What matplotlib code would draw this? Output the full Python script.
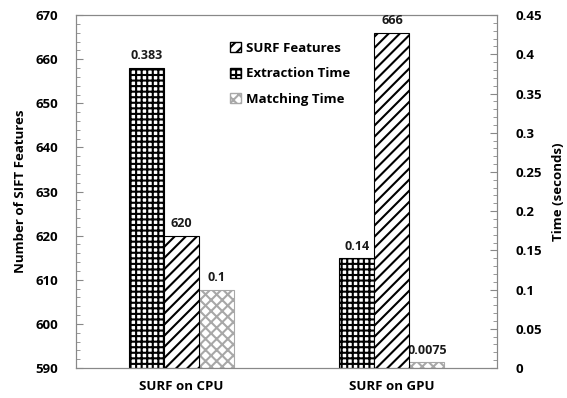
import numpy as np
import matplotlib
matplotlib.use('Agg')
import matplotlib.pyplot as plt
from matplotlib.patches import Patch
from matplotlib.ticker import MultipleLocator

plt.rcParams['font.family'] = ['Open Sans', 'DejaVu Sans']
plt.rcParams['font.weight'] = 'bold'
plt.rcParams['hatch.linewidth'] = 1.5

categories = ['SURF on CPU', 'SURF on GPU']
surf_features = [620, 666]
extraction_time = [0.383, 0.14]
matching_time = [0.1, 0.0075]
feature_labels = ['620', '666']
extraction_labels = ['0.383', '0.14']
matching_labels = ['0.1', '0.0075']

fig = plt.figure(figsize=(5.67, 3.98), dpi=100)
ax = fig.add_axes([0.134, 0.0754, 0.743, 0.8866])
ax2 = ax.twinx()

x = np.arange(len(categories))
w = 0.166

b_ext = ax2.bar(x - w, extraction_time, w, color='white', edgecolor='black',
                hatch='+++', linewidth=0.8)
b_feat = ax.bar(x, np.array(surf_features) - 590, w, bottom=590, color='white',
                edgecolor='black', hatch='///', linewidth=0.8)
b_match = ax2.bar(x + w, matching_time, w, color='white', edgecolor='#a8a8a8',
                  hatch='xxx', linewidth=0.8)

ax.set_ylim(590, 670)
ax2.set_ylim(0, 0.45)
ax.set_xlim(-0.5, 1.5)
ax.set_zorder(ax2.get_zorder() + 1)
ax.patch.set_visible(False)

# etichette sopra le barre
for bars, labs, a in [(b_ext, extraction_labels, ax2), (b_feat, feature_labels, ax),
                      (b_match, matching_labels, ax2)]:
    for b, lab in zip(bars, labs):
        a.annotate(lab, (b.get_x() + b.get_width() / 2, b.get_y() + b.get_height()),
                   xytext=(0, 4), textcoords='offset points', ha='center', va='bottom',
                   fontsize=9, fontweight='bold', color='#1a1a1a')

ax.yaxis.set_major_locator(MultipleLocator(10))
ax.yaxis.set_minor_locator(MultipleLocator(2))
ax2.yaxis.set_minor_locator(MultipleLocator(0.01))
ax2.set_yticks(np.arange(0, 0.46, 0.05))
ax2.set_yticklabels(['0', '0.05', '0.1', '0.15', '0.2', '0.25', '0.3', '0.35', '0.4', '0.45'])

ax.set_xticks(x)
ax.set_xticklabels(categories, fontsize=9.5, fontweight='bold')
ax.tick_params(axis='x', length=0, pad=9)
ax.tick_params(axis='y', which='major', direction='in', length=5, color='#888888',
               pad=13, labelsize=9.5)
ax.tick_params(axis='y', which='minor', direction='in', length=3, color='#888888')
ax2.tick_params(axis='y', which='major', direction='in', length=5, color='#888888',
                pad=13, labelsize=9.5)
ax2.tick_params(axis='y', which='minor', direction='in', length=3, color='#888888')

for a in (ax, ax2):
    for s in a.spines.values():
        s.set_color('#888888')

ax.set_ylabel('Number of SIFT Features', fontsize=9.5, fontweight='bold', labelpad=6)
ax2.set_ylabel('Time (seconds)', fontsize=9.5, fontweight='bold', labelpad=7)

handles = [Patch(facecolor='white', edgecolor='black', hatch='///', label='SURF Features'),
           Patch(facecolor='white', edgecolor='black', hatch='+++', label='Extraction Time'),
           Patch(facecolor='white', edgecolor='#a8a8a8', hatch='xxx', label='Matching Time')]
fig.legend(handles=handles, loc='upper left', bbox_to_anchor=(0.385, 0.925),
           frameon=False, handlelength=0.8, handleheight=0.8, handletextpad=0.4,
           labelspacing=0.95, prop={'size': 9.5, 'weight': 'bold'})

fig.savefig('out.png', dpi=100)
